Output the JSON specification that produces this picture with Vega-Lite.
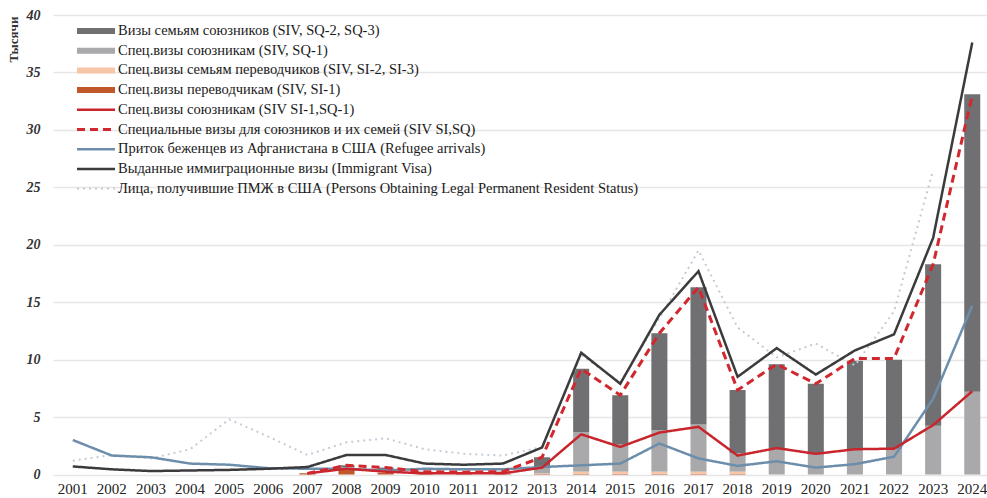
{
  "$schema": "https://vega.github.io/schema/vega-lite/v6.json",
  "width": 934,
  "height": 459.5,
  "autosize": "none",
  "padding": {"top": 15, "left": 53, "right": 0, "bottom": 24},
  "background": "white",
  "config": {
    "view": {"stroke": null},
    "font": "Liberation Serif"
  },
  "encoding": {
    "x": {
      "field": "year",
      "type": "ordinal",
      "scale": {"range": [0, 939], "paddingInner": 0.59, "paddingOuter": 0.3},
      "axis": {"title": null, "domain": false, "ticks": false, "labelAngle": 0, "labelFont": "Liberation Serif", "labelFontSize": 15, "labelColor": "#222", "labelPadding": 7, "grid": false}
    }
  },
  "layer": [
    {
      "data": {"values": [
        {"year": "2007", "series": "Спец.визы переводчикам (SIV, SI-1)", "rank": 1, "value": 0.1},
        {"year": "2008", "series": "Спец.визы переводчикам (SIV, SI-1)", "rank": 1, "value": 0.45},
        {"year": "2008", "series": "Спец.визы семьям переводчиков (SIV, SI-2, SI-3)", "rank": 2, "value": 0.15},
        {"year": "2008", "series": "Спец.визы союзникам (SIV, SQ-1)", "rank": 3, "value": 0.05},
        {"year": "2008", "series": "Визы семьям союзников (SIV, SQ-2, SQ-3)", "rank": 4, "value": 0.15},
        {"year": "2009", "series": "Спец.визы переводчикам (SIV, SI-1)", "rank": 1, "value": 0.15},
        {"year": "2009", "series": "Спец.визы семьям переводчиков (SIV, SI-2, SI-3)", "rank": 2, "value": 0.15},
        {"year": "2009", "series": "Спец.визы союзникам (SIV, SQ-1)", "rank": 3, "value": 0.1},
        {"year": "2009", "series": "Визы семьям союзников (SIV, SQ-2, SQ-3)", "rank": 4, "value": 0.2},
        {"year": "2010", "series": "Спец.визы переводчикам (SIV, SI-1)", "rank": 1, "value": 0.05},
        {"year": "2010", "series": "Спец.визы семьям переводчиков (SIV, SI-2, SI-3)", "rank": 2, "value": 0.05},
        {"year": "2010", "series": "Спец.визы союзникам (SIV, SQ-1)", "rank": 3, "value": 0.05},
        {"year": "2010", "series": "Визы семьям союзников (SIV, SQ-2, SQ-3)", "rank": 4, "value": 0.1},
        {"year": "2011", "series": "Спец.визы переводчикам (SIV, SI-1)", "rank": 1, "value": 0.05},
        {"year": "2011", "series": "Спец.визы семьям переводчиков (SIV, SI-2, SI-3)", "rank": 2, "value": 0.05},
        {"year": "2011", "series": "Спец.визы союзникам (SIV, SQ-1)", "rank": 3, "value": 0.05},
        {"year": "2011", "series": "Визы семьям союзников (SIV, SQ-2, SQ-3)", "rank": 4, "value": 0.05},
        {"year": "2012", "series": "Спец.визы переводчикам (SIV, SI-1)", "rank": 1, "value": 0.05},
        {"year": "2012", "series": "Спец.визы семьям переводчиков (SIV, SI-2, SI-3)", "rank": 2, "value": 0.05},
        {"year": "2012", "series": "Спец.визы союзникам (SIV, SQ-1)", "rank": 3, "value": 0.05},
        {"year": "2012", "series": "Визы семьям союзников (SIV, SQ-2, SQ-3)", "rank": 4, "value": 0.1},
        {"year": "2013", "series": "Спец.визы переводчикам (SIV, SI-1)", "rank": 1, "value": 0.05},
        {"year": "2013", "series": "Спец.визы семьям переводчиков (SIV, SI-2, SI-3)", "rank": 2, "value": 0.05},
        {"year": "2013", "series": "Спец.визы союзникам (SIV, SQ-1)", "rank": 3, "value": 0.55},
        {"year": "2013", "series": "Визы семьям союзников (SIV, SQ-2, SQ-3)", "rank": 4, "value": 0.85},
        {"year": "2014", "series": "Спец.визы переводчикам (SIV, SI-1)", "rank": 1, "value": 0.05},
        {"year": "2014", "series": "Спец.визы семьям переводчиков (SIV, SI-2, SI-3)", "rank": 2, "value": 0.2},
        {"year": "2014", "series": "Спец.визы союзникам (SIV, SQ-1)", "rank": 3, "value": 3.45},
        {"year": "2014", "series": "Визы семьям союзников (SIV, SQ-2, SQ-3)", "rank": 4, "value": 5.5},
        {"year": "2015", "series": "Спец.визы переводчикам (SIV, SI-1)", "rank": 1, "value": 0.05},
        {"year": "2015", "series": "Спец.визы семьям переводчиков (SIV, SI-2, SI-3)", "rank": 2, "value": 0.2},
        {"year": "2015", "series": "Спец.визы союзникам (SIV, SQ-1)", "rank": 3, "value": 2.35},
        {"year": "2015", "series": "Визы семьям союзников (SIV, SQ-2, SQ-3)", "rank": 4, "value": 4.3},
        {"year": "2016", "series": "Спец.визы переводчикам (SIV, SI-1)", "rank": 1, "value": 0.05},
        {"year": "2016", "series": "Спец.визы семьям переводчиков (SIV, SI-2, SI-3)", "rank": 2, "value": 0.2},
        {"year": "2016", "series": "Спец.визы союзникам (SIV, SQ-1)", "rank": 3, "value": 3.6},
        {"year": "2016", "series": "Визы семьям союзников (SIV, SQ-2, SQ-3)", "rank": 4, "value": 8.45},
        {"year": "2017", "series": "Спец.визы переводчикам (SIV, SI-1)", "rank": 1, "value": 0.05},
        {"year": "2017", "series": "Спец.визы семьям переводчиков (SIV, SI-2, SI-3)", "rank": 2, "value": 0.2},
        {"year": "2017", "series": "Спец.визы союзникам (SIV, SQ-1)", "rank": 3, "value": 4.1},
        {"year": "2017", "series": "Визы семьям союзников (SIV, SQ-2, SQ-3)", "rank": 4, "value": 11.95},
        {"year": "2018", "series": "Спец.визы переводчикам (SIV, SI-1)", "rank": 1, "value": 0.05},
        {"year": "2018", "series": "Спец.визы семьям переводчиков (SIV, SI-2, SI-3)", "rank": 2, "value": 0.2},
        {"year": "2018", "series": "Спец.визы союзникам (SIV, SQ-1)", "rank": 3, "value": 1.6},
        {"year": "2018", "series": "Визы семьям союзников (SIV, SQ-2, SQ-3)", "rank": 4, "value": 5.5},
        {"year": "2019", "series": "Спец.визы союзникам (SIV, SQ-1)", "rank": 3, "value": 2.3},
        {"year": "2019", "series": "Визы семьям союзников (SIV, SQ-2, SQ-3)", "rank": 4, "value": 7.3},
        {"year": "2020", "series": "Спец.визы союзникам (SIV, SQ-1)", "rank": 3, "value": 1.75},
        {"year": "2020", "series": "Визы семьям союзников (SIV, SQ-2, SQ-3)", "rank": 4, "value": 6.15},
        {"year": "2021", "series": "Спец.визы союзникам (SIV, SQ-1)", "rank": 3, "value": 2.2},
        {"year": "2021", "series": "Визы семьям союзников (SIV, SQ-2, SQ-3)", "rank": 4, "value": 7.7},
        {"year": "2022", "series": "Спец.визы союзникам (SIV, SQ-1)", "rank": 3, "value": 2.25},
        {"year": "2022", "series": "Визы семьям союзников (SIV, SQ-2, SQ-3)", "rank": 4, "value": 7.75},
        {"year": "2023", "series": "Спец.визы союзникам (SIV, SQ-1)", "rank": 3, "value": 4.25},
        {"year": "2023", "series": "Визы семьям союзников (SIV, SQ-2, SQ-3)", "rank": 4, "value": 14.05},
        {"year": "2024", "series": "Спец.визы союзникам (SIV, SQ-1)", "rank": 3, "value": 7.2},
        {"year": "2024", "series": "Визы семьям союзников (SIV, SQ-2, SQ-3)", "rank": 4, "value": 25.9}
      ]},
      "mark": {"type": "bar"},
      "encoding": {
        "y": {
          "field": "value", "type": "quantitative", "stack": "zero",
          "scale": {"domain": [0, 40], "nice": false},
          "axis": {"values": [0, 5, 10, 15, 20, 25, 30, 35, 40], "domain": false, "ticks": false, "grid": true, "gridColor": "#e6e6e6", "gridWidth": 1.5, "labelFont": "Liberation Serif", "labelFontStyle": "italic", "labelFontWeight": "bold", "labelFontSize": 14, "labelColor": "#333", "labelPadding": 13, "title": "Тысячи", "titleFont": "Liberation Serif", "titleFontSize": 13, "titleFontWeight": "bold", "titleColor": "#333", "titleAngle": -90, "titleX": -40, "titleY": 24, "titleAlign": "center", "titleBaseline": "middle"}
        },
        "fill": {
          "field": "series", "type": "nominal", "legend": null,
          "scale": {
            "domain": ["Визы семьям союзников (SIV, SQ-2, SQ-3)", "Спец.визы союзникам (SIV, SQ-1)", "Спец.визы семьям переводчиков (SIV, SI-2, SI-3)", "Спец.визы переводчикам (SIV, SI-1)"],
            "range": ["#707073", "#a9a9ab", "#f7c5a8", "#c0582a"]
          }
        },
        "order": {"field": "rank", "type": "quantitative", "sort": "ascending"}
      }
    },
    {
      "data": {"values": [
        {"year": "2001", "series": "Лица, получившие ПМЖ в США (Persons Obtaining Legal Permanent Resident Status)", "value": 1.2},
        {"year": "2002", "series": "Лица, получившие ПМЖ в США (Persons Obtaining Legal Permanent Resident Status)", "value": 1.7},
        {"year": "2003", "series": "Лица, получившие ПМЖ в США (Persons Obtaining Legal Permanent Resident Status)", "value": 1.4},
        {"year": "2004", "series": "Лица, получившие ПМЖ в США (Persons Obtaining Legal Permanent Resident Status)", "value": 2.2},
        {"year": "2005", "series": "Лица, получившие ПМЖ в США (Persons Obtaining Legal Permanent Resident Status)", "value": 4.8},
        {"year": "2006", "series": "Лица, получившие ПМЖ в США (Persons Obtaining Legal Permanent Resident Status)", "value": 3.3},
        {"year": "2007", "series": "Лица, получившие ПМЖ в США (Persons Obtaining Legal Permanent Resident Status)", "value": 1.7},
        {"year": "2008", "series": "Лица, получившие ПМЖ в США (Persons Obtaining Legal Permanent Resident Status)", "value": 2.8},
        {"year": "2009", "series": "Лица, получившие ПМЖ в США (Persons Obtaining Legal Permanent Resident Status)", "value": 3.15},
        {"year": "2010", "series": "Лица, получившие ПМЖ в США (Persons Obtaining Legal Permanent Resident Status)", "value": 2.2},
        {"year": "2011", "series": "Лица, получившие ПМЖ в США (Persons Obtaining Legal Permanent Resident Status)", "value": 1.8},
        {"year": "2012", "series": "Лица, получившие ПМЖ в США (Persons Obtaining Legal Permanent Resident Status)", "value": 1.65},
        {"year": "2013", "series": "Лица, получившие ПМЖ в США (Persons Obtaining Legal Permanent Resident Status)", "value": 2.4},
        {"year": "2014", "series": "Лица, получившие ПМЖ в США (Persons Obtaining Legal Permanent Resident Status)", "value": 10.4},
        {"year": "2015", "series": "Лица, получившие ПМЖ в США (Persons Obtaining Legal Permanent Resident Status)", "value": 8.0},
        {"year": "2016", "series": "Лица, получившие ПМЖ в США (Persons Obtaining Legal Permanent Resident Status)", "value": 13.6},
        {"year": "2017", "series": "Лица, получившие ПМЖ в США (Persons Obtaining Legal Permanent Resident Status)", "value": 19.5},
        {"year": "2018", "series": "Лица, получившие ПМЖ в США (Persons Obtaining Legal Permanent Resident Status)", "value": 12.8},
        {"year": "2019", "series": "Лица, получившие ПМЖ в США (Persons Obtaining Legal Permanent Resident Status)", "value": 10.2},
        {"year": "2020", "series": "Лица, получившие ПМЖ в США (Persons Obtaining Legal Permanent Resident Status)", "value": 11.4},
        {"year": "2021", "series": "Лица, получившие ПМЖ в США (Persons Obtaining Legal Permanent Resident Status)", "value": 9.5},
        {"year": "2022", "series": "Лица, получившие ПМЖ в США (Persons Obtaining Legal Permanent Resident Status)", "value": 14.2},
        {"year": "2023", "series": "Лица, получившие ПМЖ в США (Persons Obtaining Legal Permanent Resident Status)", "value": 26.5},
        {"year": "2001", "series": "Приток беженцев из Афганистана в США (Refugee arrivals)", "value": 3.0},
        {"year": "2002", "series": "Приток беженцев из Афганистана в США (Refugee arrivals)", "value": 1.65},
        {"year": "2003", "series": "Приток беженцев из Афганистана в США (Refugee arrivals)", "value": 1.5},
        {"year": "2004", "series": "Приток беженцев из Афганистана в США (Refugee arrivals)", "value": 0.95},
        {"year": "2005", "series": "Приток беженцев из Афганистана в США (Refugee arrivals)", "value": 0.85},
        {"year": "2006", "series": "Приток беженцев из Афганистана в США (Refugee arrivals)", "value": 0.55},
        {"year": "2007", "series": "Приток беженцев из Афганистана в США (Refugee arrivals)", "value": 0.5},
        {"year": "2008", "series": "Приток беженцев из Афганистана в США (Refugee arrivals)", "value": 0.5},
        {"year": "2009", "series": "Приток беженцев из Афганистана в США (Refugee arrivals)", "value": 0.35},
        {"year": "2010", "series": "Приток беженцев из Афганистана в США (Refugee arrivals)", "value": 0.5},
        {"year": "2011", "series": "Приток беженцев из Афганистана в США (Refugee arrivals)", "value": 0.45},
        {"year": "2012", "series": "Приток беженцев из Афганистана в США (Refugee arrivals)", "value": 0.45},
        {"year": "2013", "series": "Приток беженцев из Афганистана в США (Refugee arrivals)", "value": 0.65},
        {"year": "2014", "series": "Приток беженцев из Афганистана в США (Refugee arrivals)", "value": 0.8},
        {"year": "2015", "series": "Приток беженцев из Афганистана в США (Refugee arrivals)", "value": 0.95},
        {"year": "2016", "series": "Приток беженцев из Афганистана в США (Refugee arrivals)", "value": 2.7},
        {"year": "2017", "series": "Приток беженцев из Афганистана в США (Refugee arrivals)", "value": 1.4},
        {"year": "2018", "series": "Приток беженцев из Афганистана в США (Refugee arrivals)", "value": 0.75},
        {"year": "2019", "series": "Приток беженцев из Афганистана в США (Refugee arrivals)", "value": 1.15},
        {"year": "2020", "series": "Приток беженцев из Афганистана в США (Refugee arrivals)", "value": 0.6},
        {"year": "2021", "series": "Приток беженцев из Афганистана в США (Refugee arrivals)", "value": 0.9},
        {"year": "2022", "series": "Приток беженцев из Афганистана в США (Refugee arrivals)", "value": 1.55},
        {"year": "2023", "series": "Приток беженцев из Афганистана в США (Refugee arrivals)", "value": 6.6},
        {"year": "2024", "series": "Приток беженцев из Афганистана в США (Refugee arrivals)", "value": 14.7},
        {"year": "2001", "series": "Выданные иммиграционные визы (Immigrant Visa)", "value": 0.7},
        {"year": "2002", "series": "Выданные иммиграционные визы (Immigrant Visa)", "value": 0.45},
        {"year": "2003", "series": "Выданные иммиграционные визы (Immigrant Visa)", "value": 0.3},
        {"year": "2004", "series": "Выданные иммиграционные визы (Immigrant Visa)", "value": 0.35},
        {"year": "2005", "series": "Выданные иммиграционные визы (Immigrant Visa)", "value": 0.4},
        {"year": "2006", "series": "Выданные иммиграционные визы (Immigrant Visa)", "value": 0.5},
        {"year": "2007", "series": "Выданные иммиграционные визы (Immigrant Visa)", "value": 0.65},
        {"year": "2008", "series": "Выданные иммиграционные визы (Immigrant Visa)", "value": 1.7},
        {"year": "2009", "series": "Выданные иммиграционные визы (Immigrant Visa)", "value": 1.7},
        {"year": "2010", "series": "Выданные иммиграционные визы (Immigrant Visa)", "value": 0.95},
        {"year": "2011", "series": "Выданные иммиграционные визы (Immigrant Visa)", "value": 0.85},
        {"year": "2012", "series": "Выданные иммиграционные визы (Immigrant Visa)", "value": 0.95},
        {"year": "2013", "series": "Выданные иммиграционные визы (Immigrant Visa)", "value": 2.35},
        {"year": "2014", "series": "Выданные иммиграционные визы (Immigrant Visa)", "value": 10.6},
        {"year": "2015", "series": "Выданные иммиграционные визы (Immigrant Visa)", "value": 7.9},
        {"year": "2016", "series": "Выданные иммиграционные визы (Immigrant Visa)", "value": 13.9},
        {"year": "2017", "series": "Выданные иммиграционные визы (Immigrant Visa)", "value": 17.7},
        {"year": "2018", "series": "Выданные иммиграционные визы (Immigrant Visa)", "value": 8.5},
        {"year": "2019", "series": "Выданные иммиграционные визы (Immigrant Visa)", "value": 11.0},
        {"year": "2020", "series": "Выданные иммиграционные визы (Immigrant Visa)", "value": 8.7},
        {"year": "2021", "series": "Выданные иммиграционные визы (Immigrant Visa)", "value": 10.8},
        {"year": "2022", "series": "Выданные иммиграционные визы (Immigrant Visa)", "value": 12.2},
        {"year": "2023", "series": "Выданные иммиграционные визы (Immigrant Visa)", "value": 20.6},
        {"year": "2024", "series": "Выданные иммиграционные визы (Immigrant Visa)", "value": 37.6},
        {"year": "2007", "series": "Спец.визы союзникам (SIV SI-1,SQ-1)", "value": 0.1},
        {"year": "2008", "series": "Спец.визы союзникам (SIV SI-1,SQ-1)", "value": 0.5},
        {"year": "2009", "series": "Спец.визы союзникам (SIV SI-1,SQ-1)", "value": 0.25},
        {"year": "2010", "series": "Спец.визы союзникам (SIV SI-1,SQ-1)", "value": 0.1},
        {"year": "2011", "series": "Спец.визы союзникам (SIV SI-1,SQ-1)", "value": 0.1},
        {"year": "2012", "series": "Спец.визы союзникам (SIV SI-1,SQ-1)", "value": 0.1},
        {"year": "2013", "series": "Спец.визы союзникам (SIV SI-1,SQ-1)", "value": 0.6},
        {"year": "2014", "series": "Спец.визы союзникам (SIV SI-1,SQ-1)", "value": 3.5},
        {"year": "2015", "series": "Спец.визы союзникам (SIV SI-1,SQ-1)", "value": 2.4},
        {"year": "2016", "series": "Спец.визы союзникам (SIV SI-1,SQ-1)", "value": 3.65},
        {"year": "2017", "series": "Спец.визы союзникам (SIV SI-1,SQ-1)", "value": 4.15},
        {"year": "2018", "series": "Спец.визы союзникам (SIV SI-1,SQ-1)", "value": 1.65},
        {"year": "2019", "series": "Спец.визы союзникам (SIV SI-1,SQ-1)", "value": 2.3},
        {"year": "2020", "series": "Спец.визы союзникам (SIV SI-1,SQ-1)", "value": 1.8},
        {"year": "2021", "series": "Спец.визы союзникам (SIV SI-1,SQ-1)", "value": 2.2},
        {"year": "2022", "series": "Спец.визы союзникам (SIV SI-1,SQ-1)", "value": 2.25},
        {"year": "2023", "series": "Спец.визы союзникам (SIV SI-1,SQ-1)", "value": 4.3},
        {"year": "2024", "series": "Спец.визы союзникам (SIV SI-1,SQ-1)", "value": 7.25},
        {"year": "2007", "series": "Специальные визы для союзников и их семей (SIV SI,SQ)", "value": 0.1},
        {"year": "2008", "series": "Специальные визы для союзников и их семей (SIV SI,SQ)", "value": 0.8},
        {"year": "2009", "series": "Специальные визы для союзников и их семей (SIV SI,SQ)", "value": 0.6},
        {"year": "2010", "series": "Специальные визы для союзников и их семей (SIV SI,SQ)", "value": 0.25},
        {"year": "2011", "series": "Специальные визы для союзников и их семей (SIV SI,SQ)", "value": 0.2},
        {"year": "2012", "series": "Специальные визы для союзников и их семей (SIV SI,SQ)", "value": 0.25},
        {"year": "2013", "series": "Специальные визы для союзников и их семей (SIV SI,SQ)", "value": 1.5},
        {"year": "2014", "series": "Специальные визы для союзников и их семей (SIV SI,SQ)", "value": 9.2},
        {"year": "2015", "series": "Специальные визы для союзников и их семей (SIV SI,SQ)", "value": 6.9},
        {"year": "2016", "series": "Специальные визы для союзников и их семей (SIV SI,SQ)", "value": 12.3},
        {"year": "2017", "series": "Специальные визы для союзников и их семей (SIV SI,SQ)", "value": 16.3},
        {"year": "2018", "series": "Специальные визы для союзников и их семей (SIV SI,SQ)", "value": 7.35},
        {"year": "2019", "series": "Специальные визы для союзников и их семей (SIV SI,SQ)", "value": 9.6},
        {"year": "2020", "series": "Специальные визы для союзников и их семей (SIV SI,SQ)", "value": 7.9},
        {"year": "2021", "series": "Специальные визы для союзников и их семей (SIV SI,SQ)", "value": 10.1},
        {"year": "2022", "series": "Специальные визы для союзников и их семей (SIV SI,SQ)", "value": 10.1},
        {"year": "2023", "series": "Специальные визы для союзников и их семей (SIV SI,SQ)", "value": 18.3},
        {"year": "2024", "series": "Специальные визы для союзников и их семей (SIV SI,SQ)", "value": 33.0}
      ]},
      "mark": {"type": "line", "interpolate": "linear"},
      "encoding": {
        "y": {"field": "value", "type": "quantitative"},
        "stroke": {
          "field": "series", "type": "nominal",
          "scale": {
            "domain": ["Визы семьям союзников (SIV, SQ-2, SQ-3)", "Спец.визы союзникам (SIV, SQ-1)", "Спец.визы семьям переводчиков (SIV, SI-2, SI-3)", "Спец.визы переводчикам (SIV, SI-1)", "Спец.визы союзникам (SIV SI-1,SQ-1)", "Специальные визы для союзников и их семей (SIV SI,SQ)", "Приток беженцев из Афганистана в США (Refugee arrivals)", "Выданные иммиграционные визы (Immigrant Visa)", "Лица, получившие ПМЖ в США (Persons Obtaining Legal Permanent Resident Status)"],
            "range": ["#707073", "#a9a9ab", "#f7c5a8", "#c0582a", "#c9252c", "#d0282e", "#6d8eab", "#3b3b3d", "#c3ccd5"]
          },
          "legend": {
            "title": null, "orient": "none", "legendX": 21, "legendY": 8,
            "symbolType": "stroke", "symbolSize": 1444, "clipHeight": 16, "rowPadding": 3.7,
            "labelFont": "Liberation Serif", "labelFontSize": 14.5, "labelColor": "#1a1a1a", "labelLimit": 800, "labelOffset": 0, "padding": 0
          }
        },
        "strokeDash": {
          "field": "series", "type": "nominal",
          "scale": {
            "domain": ["Визы семьям союзников (SIV, SQ-2, SQ-3)", "Спец.визы союзникам (SIV, SQ-1)", "Спец.визы семьям переводчиков (SIV, SI-2, SI-3)", "Спец.визы переводчикам (SIV, SI-1)", "Спец.визы союзникам (SIV SI-1,SQ-1)", "Специальные визы для союзников и их семей (SIV SI,SQ)", "Приток беженцев из Афганистана в США (Refugee arrivals)", "Выданные иммиграционные визы (Immigrant Visa)", "Лица, получившие ПМЖ в США (Persons Obtaining Legal Permanent Resident Status)"],
            "range": [[1, 0], [1, 0], [1, 0], [1, 0], [1, 0], [8, 5], [1, 0], [1, 0], [2, 4]]
          },
          "legend": {
            "title": null, "orient": "none", "legendX": 21, "legendY": 8,
            "symbolType": "stroke", "symbolSize": 1444, "clipHeight": 16, "rowPadding": 3.7,
            "labelFont": "Liberation Serif", "labelFontSize": 14.5, "labelColor": "#1a1a1a", "labelLimit": 800, "labelOffset": 0, "padding": 0
          }
        },
        "strokeWidth": {
          "field": "series", "type": "nominal",
          "scale": {
            "type": "ordinal",
            "domain": ["Визы семьям союзников (SIV, SQ-2, SQ-3)", "Спец.визы союзникам (SIV, SQ-1)", "Спец.визы семьям переводчиков (SIV, SI-2, SI-3)", "Спец.визы переводчикам (SIV, SI-1)", "Спец.визы союзникам (SIV SI-1,SQ-1)", "Специальные визы для союзников и их семей (SIV SI,SQ)", "Приток беженцев из Афганистана в США (Refugee arrivals)", "Выданные иммиграционные визы (Immigrant Visa)", "Лица, получившие ПМЖ в США (Persons Obtaining Legal Permanent Resident Status)"],
            "range": [6, 6, 6, 6, 2.5, 3, 2.5, 2.5, 2]
          },
          "legend": {
            "title": null, "orient": "none", "legendX": 21, "legendY": 8,
            "symbolType": "stroke", "symbolSize": 1444, "clipHeight": 16, "rowPadding": 3.7,
            "labelFont": "Liberation Serif", "labelFontSize": 14.5, "labelColor": "#1a1a1a", "labelLimit": 800, "labelOffset": 0, "padding": 0
          }
        }
      }
    }
  ]
}
